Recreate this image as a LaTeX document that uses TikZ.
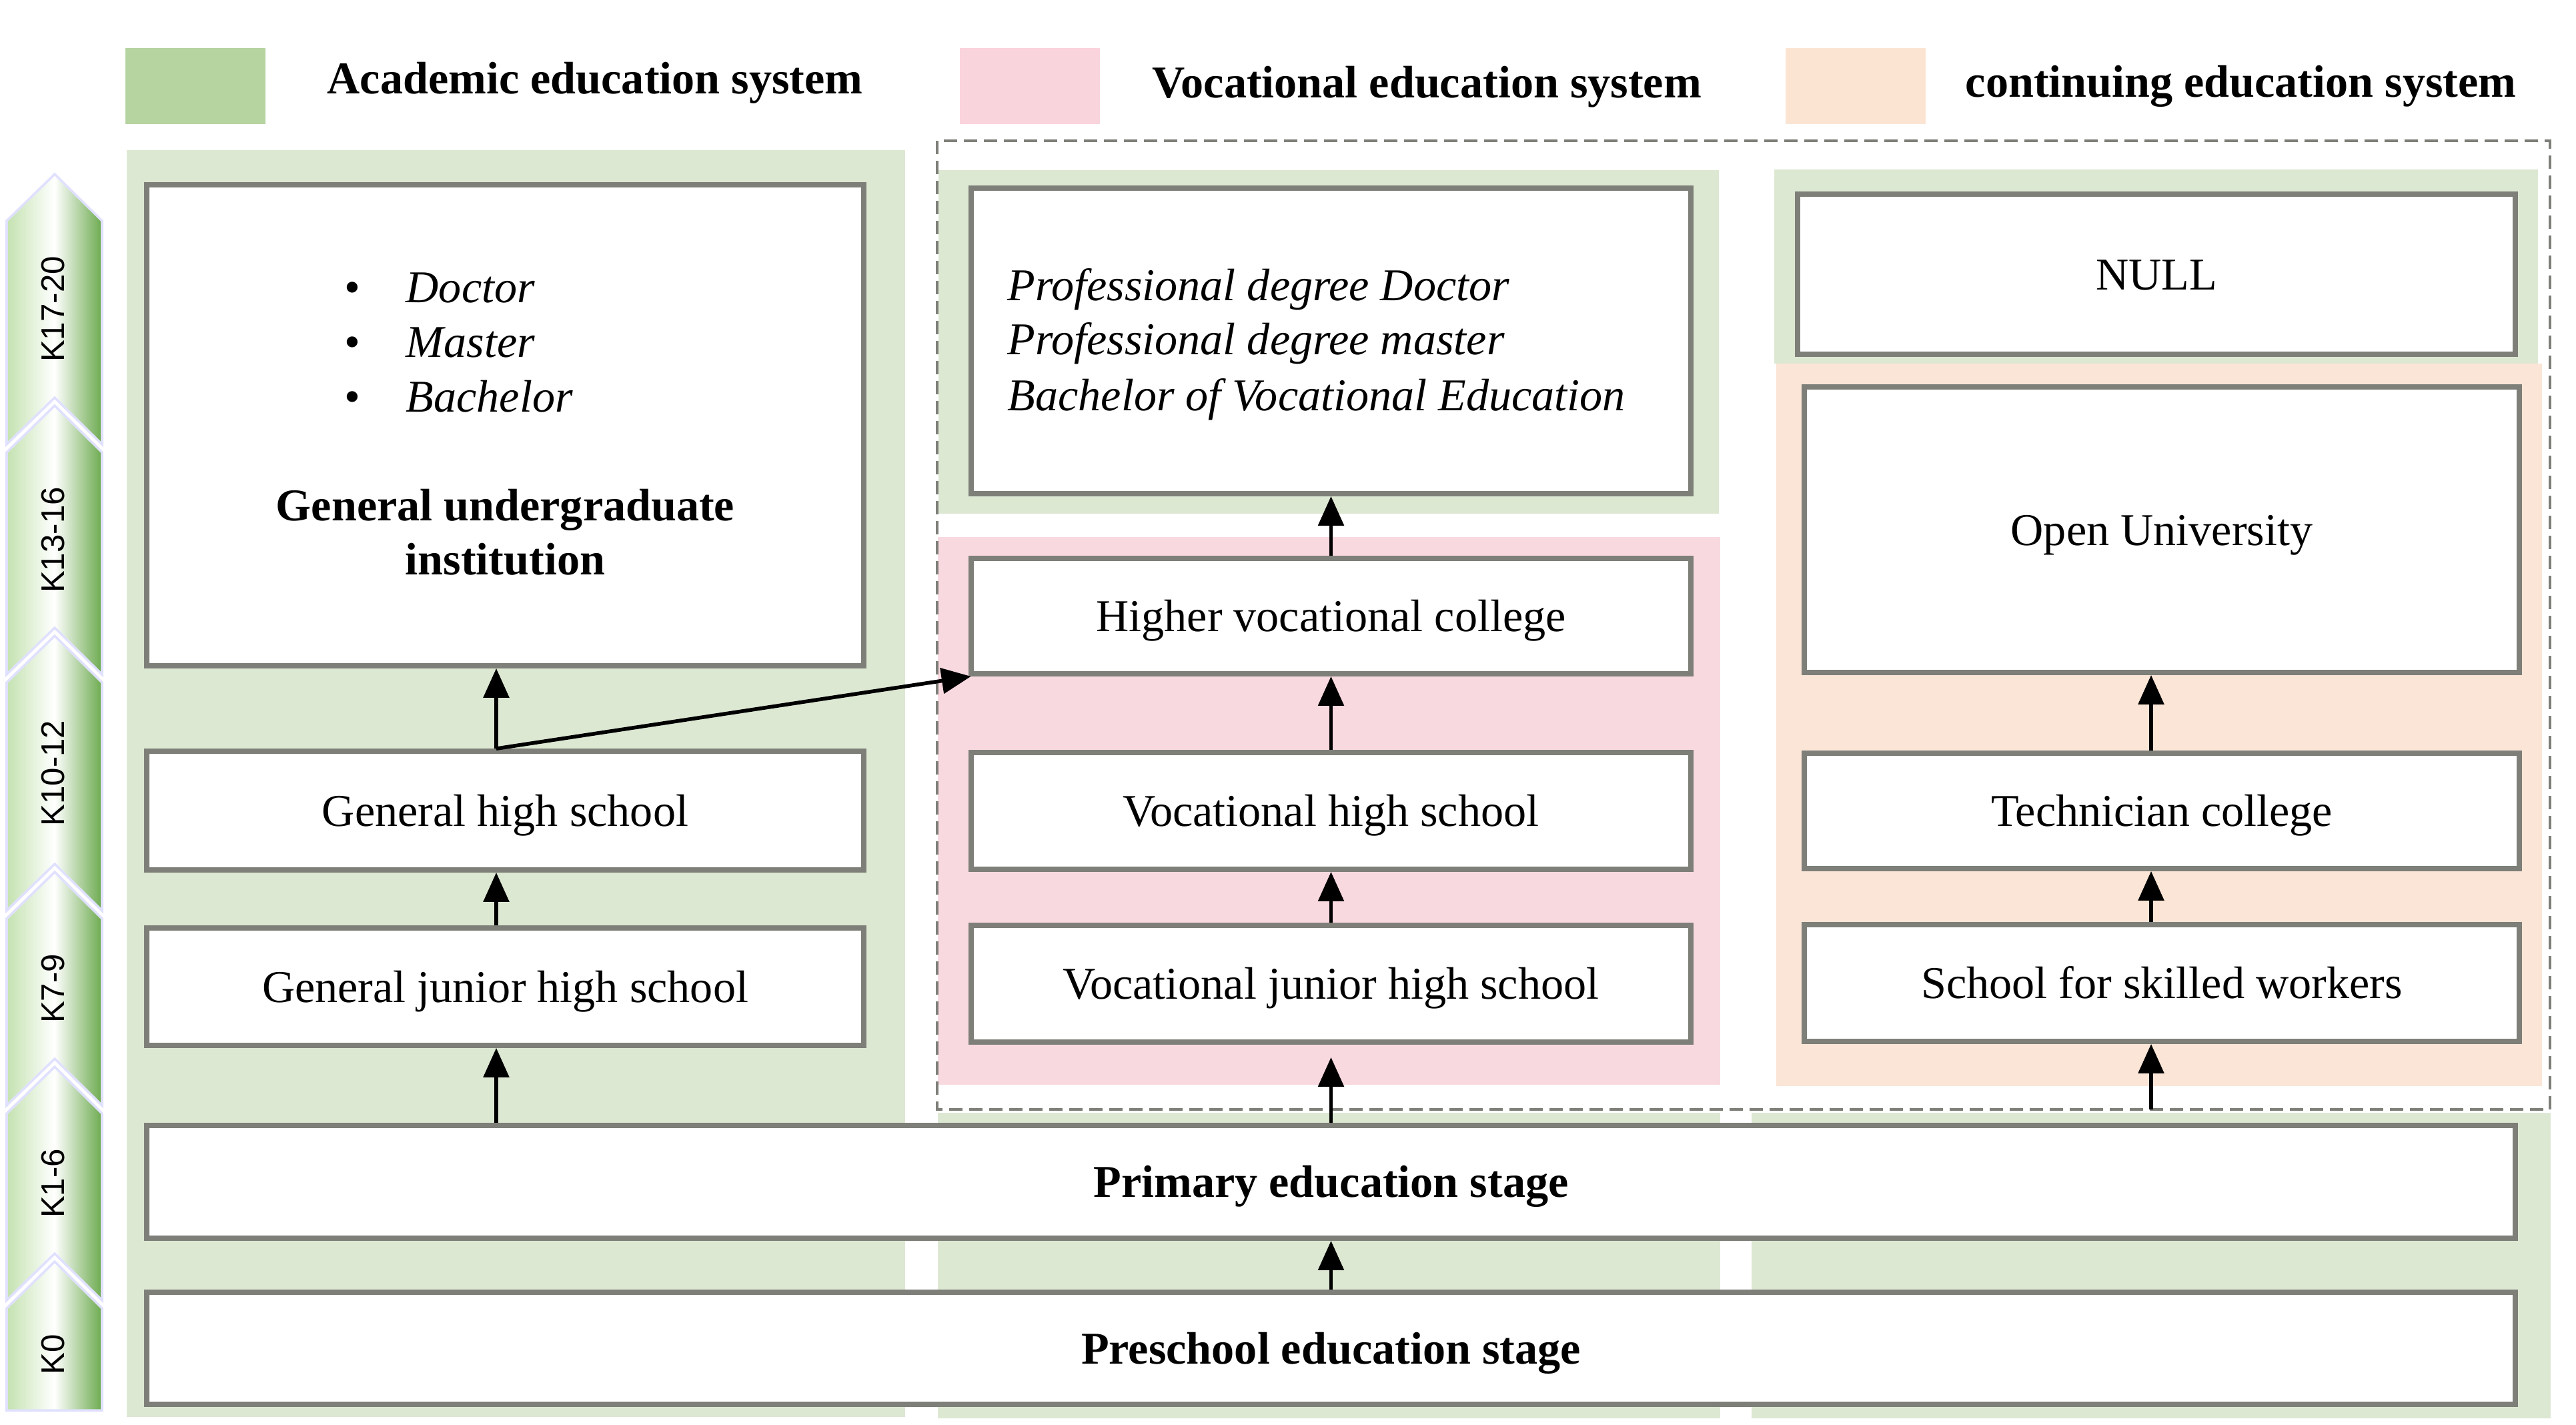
\documentclass[tikz,border=0pt]{standalone}
\usepackage{fontspec}
\setmainfont{Liberation Serif}
\setsansfont{Liberation Sans}
\usetikzlibrary{arrows.meta}

\definecolor{acadGreen}{RGB}{181,212,160}
\definecolor{acadPanel}{RGB}{221,232,211}
\definecolor{vocPink}{RGB}{250,212,220}
\definecolor{vocPanel}{RGB}{249,217,224}
\definecolor{contPeach}{RGB}{252,228,211}
\definecolor{contPanel}{RGB}{251,229,214}
\definecolor{boxGray}{RGB}{125,127,120}
\definecolor{chevLeft}{RGB}{196,226,176}
\definecolor{chevRight}{RGB}{108,170,78}

\newcommand{\mainsize}{\fontsize{19.4}{23.3}\selectfont}

\begin{document}
\begin{tikzpicture}[>={Triangle[length=4.4mm,width=3.8mm]},
    schoolbox/.style={draw=boxGray, line width=2.2pt, fill=white, inner sep=0pt, font=\mainsize, text height=0.48cm, text depth=0.02cm},
    arr/.style={->, line width=1.6pt},
    legbox/.style={minimum width=2.1cm, minimum height=1.14cm, inner sep=0pt},
    legtext/.style={anchor=base west, inner sep=0pt, font=\mainsize\bfseries},
    chevron/.style={left color=chevLeft, right color=chevRight, middle color=white, draw=blue!12, line width=1pt}]
    \useasboundingbox (0,0) rectangle (38.62,-21.35);

    \fill[acadPanel] (1.90,-2.25) rectangle (13.57,-21.24);
    \fill[acadPanel] (14.07,-2.55) rectangle (25.77,-7.70);
    \fill[vocPanel] (14.06,-8.05) rectangle (25.79,-16.26);
    \fill[acadPanel] (14.06,-16.68) rectangle (25.79,-21.26);
    \fill[acadPanel] (26.60,-2.54) rectangle (38.05,-5.45);
    \fill[contPanel] (26.63,-5.45) rectangle (38.11,-16.28);
    \fill[acadPanel] (26.26,-16.68) rectangle (38.24,-21.26);

    \coordinate (dashNW) at (14.05,-2.11);
    \coordinate (dashSE) at (38.23,-16.63);
    \coordinate (leftLane) at (7.44,0);
    \coordinate (rightLane) at (32.25,0);
    \draw[boxGray, line width=1.2pt, dash pattern=on 0.2cm off 0.1cm] (dashNW) rectangle (dashSE);

    \node[legbox, fill=acadGreen] (legAcad) at (2.93,-1.29) {};
    \node[legtext] (legAcadText) at (4.90,-1.40) {Academic education system};
    \node[legbox, fill=vocPink] (legVoc) at (15.44,-1.29) {};
    \node[legtext] (legVocText) at (17.27,-1.46) {Vocational education system};
    \node[legbox, fill=contPeach] (legCont) at (27.82,-1.29) {};
    \node[legtext] (legContText) at (29.46,-1.45) {continuing education system};

    \node[schoolbox, minimum width=10.75cm, minimum height=7.21cm] (uni) at (7.575,-6.375) {};
    \foreach \deg [count=\i] in {Doctor, Master, Bachelor}
        \node[anchor=base west, inner sep=0pt, font=\mainsize] (uniDeg\i) at (5.16,{-4.53-0.82*(\i-1)})
            {\makebox[0.92cm][l]{\textbullet}\textit{\deg}};
    \node[anchor=base, inner sep=0pt, font=\mainsize\bfseries] (uniName1) at (7.575,-7.80) {General undergraduate};
    \node[anchor=base, inner sep=0pt, font=\mainsize\bfseries] (uniName2) at (7.575,-8.61) {institution};
    \node[schoolbox, minimum width=10.75cm, minimum height=1.78cm] (ghs) at (7.575,-12.15) {General high school};
    \node[schoolbox, minimum width=10.75cm, minimum height=1.76cm] (gjhs) at (7.575,-14.79) {General junior high school};

    \node[schoolbox, minimum width=10.79cm, minimum height=4.58cm] (prof) at (19.955,-5.11) {};
    \foreach \deg/\y [count=\i] in {Professional degree Doctor/4.50, Professional degree master/5.31, Bachelor of Vocational Education/6.15}
        \node[anchor=base west, inner sep=0pt, font=\mainsize\itshape] (profDeg\i) at (15.10,-\y) {\deg};
    \node[schoolbox, minimum width=10.79cm, minimum height=1.73cm] (hvc) at (19.955,-9.235) {Higher vocational college};
    \node[schoolbox, minimum width=10.79cm, minimum height=1.75cm] (vhs) at (19.955,-12.155) {Vocational high school};
    \node[schoolbox, minimum width=10.79cm, minimum height=1.75cm] (vjhs) at (19.955,-14.745) {Vocational junior high school};

    \node[schoolbox, minimum width=10.76cm, minimum height=2.40cm] (null) at (32.33,-4.11) {NULL};
    \node[schoolbox, minimum width=10.72cm, minimum height=4.28cm] (ou) at (32.41,-7.94) {Open University};
    \node[schoolbox, minimum width=10.72cm, minimum height=1.73cm] (tc) at (32.41,-12.155) {Technician college};
    \node[schoolbox, minimum width=10.72cm, minimum height=1.75cm] (ssw) at (32.41,-14.735) {School for skilled workers};

    \node[schoolbox, minimum width=35.51cm, minimum height=1.69cm, font=\mainsize\bfseries] (primary) at (19.955,-17.715) {Primary education stage};
    \node[schoolbox, minimum width=35.51cm, minimum height=1.68cm, font=\mainsize\bfseries] (preschool) at (19.955,-20.21) {Preschool education stage};

    \draw[arr] (primary.north -| leftLane) -- (gjhs.south -| leftLane);
    \draw[arr] (gjhs.north -| leftLane) -- (ghs.south -| leftLane);
    \draw[arr] (ghs.north -| leftLane) -- (uni.south -| leftLane);
    \draw[arr] (ghs.north -| leftLane) -- ([xshift=1pt]hvc.south west);
    \draw[arr] (preschool.north) -- (primary.south);
    \draw[arr, shorten >=0.19cm] (primary.north) -- (vjhs.south);
    \draw[arr] (vjhs.north) -- (vhs.south);
    \draw[arr] (vhs.north) -- (hvc.south);
    \draw[arr] (hvc.north) -- (prof.south);
    \draw[arr] (dashSE -| rightLane) -- (ssw.south -| rightLane);
    \draw[arr] (ssw.north -| rightLane) -- (tc.south -| rightLane);
    \draw[arr] (tc.north -| rightLane) -- (ou.south -| rightLane);

    \foreach \p/\q/\lab [count=\i] in {2.61/5.96/K17-20, 6.08/9.41/K13-16, 9.53/12.95/K10-12, 13.07/15.87/K7-9, 15.99/18.79/K1-6} {
        \shade[chevron] (0.10,-\p-0.7) -- (0.82,-\p) -- (1.53,-\p-0.7) -- (1.53,-\q-0.7) -- (0.82,-\q) -- (0.10,-\q-0.7) -- cycle;
        \node[rotate=90, font=\sffamily\fontsize{14}{16}\selectfont] (chev\i) at (0.80,{-(\p+0.7+\q)/2}) {\lab};
    }
    \shade[chevron] (0.10,-19.61) -- (0.82,-18.91) -- (1.53,-19.61) -- (1.53,-21.14) -- (0.10,-21.14) -- cycle;
    \node[rotate=90, font=\sffamily\fontsize{14}{16}\selectfont] (chev6) at (0.80,-20.30) {K0};
\end{tikzpicture}
\end{document}
